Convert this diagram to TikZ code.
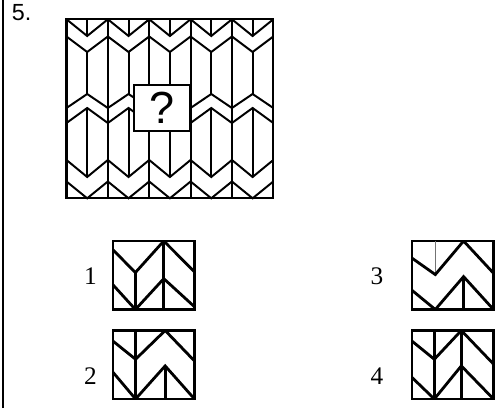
\documentclass[tikz,border=0pt]{standalone}
\usepackage{fontspec}
\setmainfont{Liberation Serif}
\newfontfamily\quizsans{Liberation Sans}
\tikzset{
  tile/.style={draw=black, line width=1.4pt},
  frame/.style={draw=black, line width=1.7pt},
  askbox/.style={draw=black, line width=1.4pt, fill=white,
    minimum width=14mm, minimum height=11.5mm, inner sep=0pt,
    font=\quizsans\fontsize{32}{32}\selectfont},
  optbox/.style={draw=black, line width=2pt, outer sep=0pt, inner sep=0pt,
    minimum width=20.375mm, minimum height=17.125mm},
  optline/.style={draw=black, line width=2pt},
  numlbl/.style={font=\fontsize{18}{18}\selectfont, inner sep=0pt},
}

\begin{document}
\begin{tikzpicture}[x=0.25mm, y=0.25mm]
  \useasboundingbox (0,0) rectangle (496,408);
  \draw[line width=0.95pt] (3,0) -- (3,408);
  \node[font=\quizsans\fontsize{16.6}{17}\selectfont, inner sep=0pt, anchor=base west]
    (task) at (11.7,387.3) {5.};

  % chevron pattern, one column per step
  \foreach \i in {0,...,4} {
    \pgfmathsetmacro\xl{66.5+41.36*\i}
    \pgfmathsetmacro\xc{\xl+20.68}
    \pgfmathsetmacro\xr{\xl+41.36}
    \draw[tile] (\xl,388.7) -- (\xc,372) -- (\xr,388.7);
    \draw[tile] (\xc,388.7) -- (\xc,372);
    \draw[tile] (\xl,371.5) -- (\xc,356) -- (\xr,371.5);
    \draw[tile] (\xc,356) -- (\xc,314);
    \draw[tile] (\xl,300) -- (\xc,314) -- (\xr,300);
    \draw[tile] (\xl,285) -- (\xc,300) -- (\xr,285);
    \draw[tile] (\xc,300) -- (\xc,231);
    \draw[tile] (\xl,248) -- (\xc,231) -- (\xr,248);
    \draw[tile] (\xl,226.5) -- (\xc,209.7) -- (\xr,226.5);
    \draw[tile] (\xr,388.7) -- (\xr,209.7);
  }
  \draw[frame] (66.5,209.7) rectangle (273.3,388.7);
  \node[askbox] (ask) at (162,300) {?};

  % answer boxes
  \node[optbox] (opt1) at (153.75,132.75) {};
  \node[optbox] (opt2) at (153.75,43.25) {};
  \node[optbox] (opt3) at (452.75,132.75) {};
  \node[optbox] (opt4) at (452.75,43.25) {};
  \node[numlbl] (n1) at (90.5,131.5) {1};
  \node[numlbl] (n2) at (90.5,31.7) {2};
  \node[numlbl] (n3) at (377,131.5) {3};
  \node[numlbl] (n4) at (377,31.7) {4};

  \begin{scope}[shift={(opt1.south west)}, x=20.375mm, y=17.125mm]
    \clip (0,0) rectangle (1,1);
    \draw[optline] (0.623,0) -- (0.623,1);
    \draw[optline] (0,0.87) -- (0.275,0.54) -- (0.623,1) -- (1,0.55);
    \draw[optline] (0.275,0.54) -- (0.275,0);
    \draw[optline] (0,0.36) -- (0.275,0) -- (0.623,0.45) -- (1,0.04);
  \end{scope}
  \begin{scope}[shift={(opt2.south west)}, x=20.375mm, y=17.125mm]
    \clip (0,0) rectangle (1,1);
    \draw[optline] (0.277,0) -- (0.277,1);
    \draw[optline] (0,0.845) -- (0.277,0.58) -- (0.64,1) -- (1,0.555);
    \draw[optline] (0,0.39) -- (0.277,0) -- (0.64,0.483) -- (1,0);
    \draw[optline] (0.64,0.483) -- (0.64,0);
  \end{scope}
  \begin{scope}[shift={(opt3.south west)}, x=20.375mm, y=17.125mm]
    \clip (0,0) rectangle (1,1);
    \draw[line width=0.7pt, black!55] (0.286,1) -- (0.286,0.51);
    \draw[optline] (0,0.75) -- (0.286,0.51) -- (0.633,1) -- (1,0.53);
    \draw[optline] (0,0.28) -- (0.286,0) -- (0.633,0.48) -- (1,0);
    \draw[optline] (0.633,0.48) -- (0.633,0);
  \end{scope}
  \begin{scope}[shift={(opt4.south west)}, x=20.375mm, y=17.125mm]
    \clip (0,0) rectangle (1,1);
    \draw[optline] (0.274,0) -- (0.274,1);
    \draw[optline] (0.605,0) -- (0.605,1);
    \draw[optline] (0,0.845) -- (0.274,0.58) -- (0.605,1) -- (1,0.51);
    \draw[optline] (0,0.314) -- (0.274,0) -- (0.605,0.483) -- (1,0);
  \end{scope}
\end{tikzpicture}
\end{document}
